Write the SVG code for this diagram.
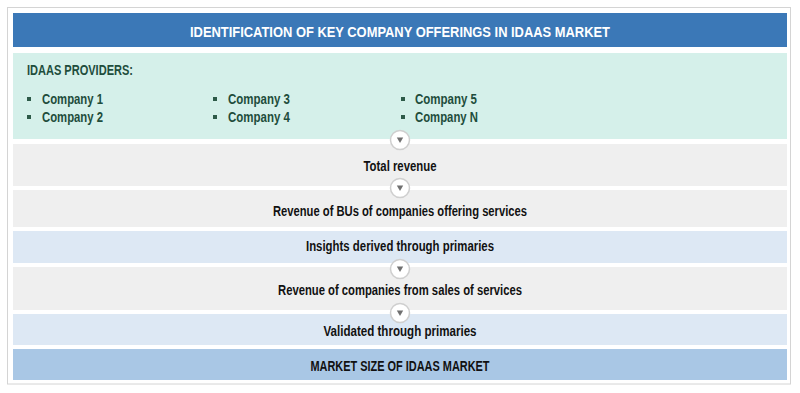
<svg xmlns="http://www.w3.org/2000/svg" width="800" height="393" viewBox="0 0 800 393">
<defs>
<style>
text{font-family:"Liberation Sans",Arial,sans-serif;font-weight:bold;}
.t{font-size:14.5px;fill:#ffffff;text-anchor:middle;}
.g{font-size:14px;fill:#1e4d3c;}
.b{font-size:14.5px;fill:#111111;text-anchor:middle;}
.bul{fill:#2d5a48;}
.c{fill:#ffffff;stroke:#cfcfcf;stroke-width:1.5;}
.tri{fill:#707070;}
</style>
<g id="arrow">
<circle class="c" cx="0" cy="0" r="9.5"/>
<path class="tri" d="M-3.2,-2.5 L3.2,-2.5 L0,3 Z"/>
</g>
</defs>
<rect x="0" y="0" width="800" height="393" fill="#ffffff"/>
<rect x="7.5" y="7.5" width="783" height="376.5" fill="#ffffff" stroke="#d4d4d4" stroke-width="1"/>
<g id="title">
<rect x="13" y="13" width="774" height="34" fill="#3b78b7"/>
<text class="t" x="400" y="36.5" textLength="420" lengthAdjust="spacingAndGlyphs">IDENTIFICATION OF KEY COMPANY OFFERINGS IN IDAAS MARKET</text>
</g>
<g id="providers">
<rect x="13" y="53" width="774" height="86" fill="#d5f0ea"/>
<text class="g" x="27" y="75" textLength="106" lengthAdjust="spacingAndGlyphs">IDAAS PROVIDERS:</text>
<rect class="bul" x="27" y="97" width="4" height="4"/>
<rect class="bul" x="27" y="115" width="4" height="4"/>
<rect class="bul" x="213" y="97" width="4" height="4"/>
<rect class="bul" x="213" y="115" width="4" height="4"/>
<rect class="bul" x="401" y="97" width="4" height="4"/>
<rect class="bul" x="401" y="115" width="4" height="4"/>
<text class="g" x="42" y="104" textLength="61" lengthAdjust="spacingAndGlyphs">Company 1</text>
<text class="g" x="42" y="122" textLength="61" lengthAdjust="spacingAndGlyphs">Company 2</text>
<text class="g" x="228" y="104" textLength="62" lengthAdjust="spacingAndGlyphs">Company 3</text>
<text class="g" x="228" y="122" textLength="62" lengthAdjust="spacingAndGlyphs">Company 4</text>
<text class="g" x="415" y="104" textLength="62" lengthAdjust="spacingAndGlyphs">Company 5</text>
<text class="g" x="415" y="122" textLength="63" lengthAdjust="spacingAndGlyphs">Company N</text>
</g>
<g id="total-revenue">
<rect x="13" y="144" width="774" height="42" fill="#efefef"/>
<text class="b" x="400" y="171" textLength="73" lengthAdjust="spacingAndGlyphs">Total revenue</text>
</g>
<g id="revenue-bus">
<rect x="13" y="190" width="774" height="37" fill="#efefef"/>
<text class="b" x="400" y="216" textLength="254" lengthAdjust="spacingAndGlyphs">Revenue of BUs of companies offering services</text>
</g>
<g id="insights">
<rect x="13" y="231" width="774" height="32" fill="#dde8f4"/>
<text class="b" x="400" y="250.5" textLength="188" lengthAdjust="spacingAndGlyphs">Insights derived through primaries</text>
</g>
<g id="revenue-sales">
<rect x="13" y="267" width="774" height="43" fill="#efefef"/>
<text class="b" x="400" y="295" textLength="244" lengthAdjust="spacingAndGlyphs">Revenue of companies from sales of services</text>
</g>
<g id="validated">
<rect x="13" y="314" width="774" height="31" fill="#dde8f4"/>
<text class="b" x="400" y="335.5" textLength="153" lengthAdjust="spacingAndGlyphs">Validated through primaries</text>
</g>
<g id="market-size">
<rect x="13" y="349" width="774" height="31" fill="#a9c7e5"/>
<text class="b" x="400" y="370.5" fill="#1a1a1a" textLength="179" lengthAdjust="spacingAndGlyphs">MARKET SIZE OF IDAAS MARKET</text>
</g>
<g id="connectors">
<use href="#arrow" x="400" y="140"/>
<use href="#arrow" x="400" y="188"/>
<use href="#arrow" x="400" y="269"/>
<use href="#arrow" x="400" y="313"/>
</g>
</svg>
